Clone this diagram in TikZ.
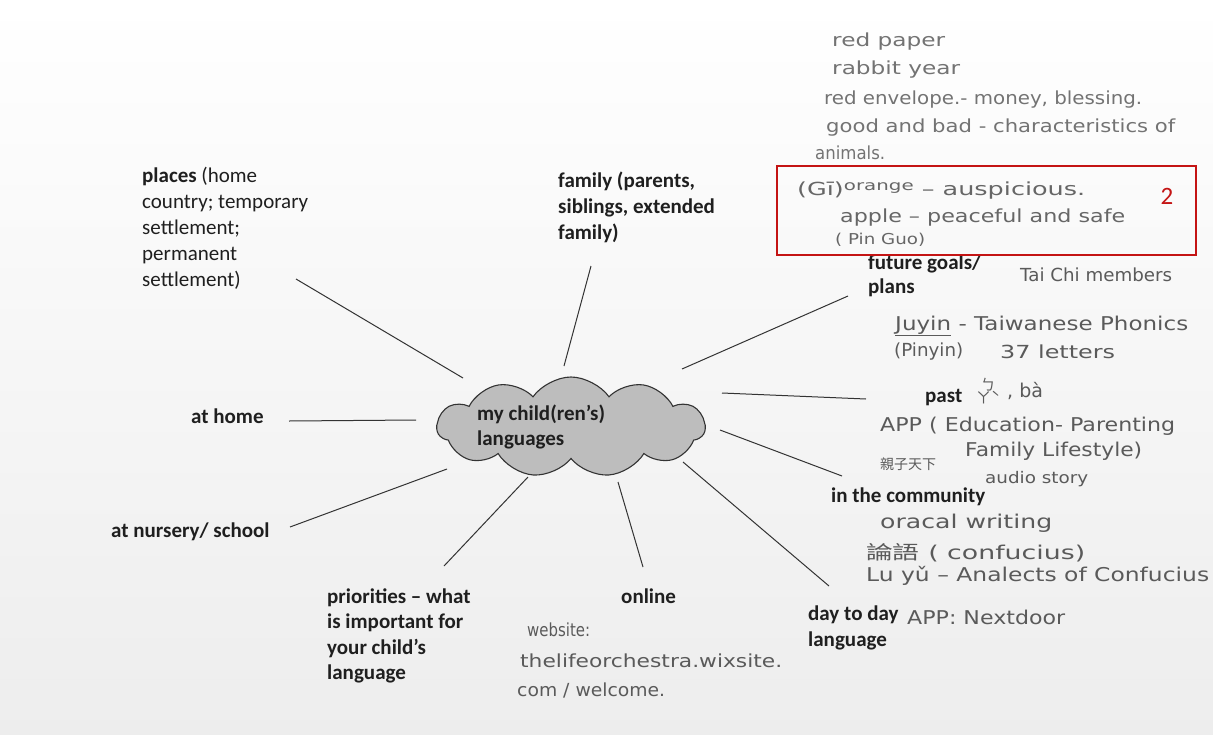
\documentclass[tikz,border=0pt]{standalone}
\usepackage{fontspec}
\usepackage{graphicx}
\setmainfont{Carlito}
\newfontfamily\hwfont{DejaVu Sans}
\newfontfamily\cjk{Noto Sans CJK TC}
\usetikzlibrary{shapes.symbols}
\definecolor{boxred}{RGB}{196,20,20}
\definecolor{pen}{RGB}{90,90,90}
\newcommand{\hwl}[2]{\resizebox{#1pt}{\height}{#2}}
\begin{document}
\begin{tikzpicture}[x=1pt,y=-1pt,
  lab/.style={anchor=west,inner sep=0pt,align=left,font=\fontsize{21}{26}\selectfont,text=black!88},
  blab/.style={lab,font=\bfseries\fontsize{21}{26}\selectfont},
  hw/.style={anchor=west,inner sep=0pt,align=left,text=pen,font=\hwfont\fontsize{18}{20}\selectfont},
  spoke/.style={draw=black!80,line width=1pt}]
\useasboundingbox (0,0) rectangle (1213,734);
\shade[top color=white,bottom color=black!7] (0,0) rectangle (1213,734);

% central cloud
\node[cloud,cloud puffs=11,cloud puff arc=110,aspect=2.6,minimum width=268pt,minimum height=100pt,
  fill=black!26,draw=black!80,line width=1.1pt,inner sep=0pt] (cloud) at (571,427) {};
\node[blab,font=\bfseries\fontsize{21}{25}\selectfont] (ctext) at (477,427) {my child(ren’s)\\languages};

% labels
\node[lab] (places) at (142,228) {\textbf{places} (home\\country; temporary\\settlement;\\permanent\\settlement)};
\node[blab] (family) at (558,207) {family (parents,\\siblings, extended\\family)};
\node[blab,font=\bfseries\fontsize{21}{24}\selectfont] (future) at (868,276) {future goals/\\plans};
\node[blab] (past) at (925,398) {past};
\node[blab] (home) at (191,416) {at home};
\node[blab] (community) at (831,497) {in the community};
\node[blab] (nursery) at (111,532) {at nursery/ school};
\node[blab,font=\bfseries\fontsize{21}{25.5}\selectfont] (priorities) at (327,636) {priorities – what\\is important for\\your child’s\\language};
\node[blab] (online) at (621,596) {online};
\node[blab] (daytoday) at (808,628) {day to day\\language};

% spoke end points
\coordinate (p1) at (296,279); \coordinate (p2) at (463,378);
\coordinate (f1) at (591,266); \coordinate (f2) at (564,366);
\coordinate (g1) at (848,296); \coordinate (g2) at (682,369);
\coordinate (pa1) at (866,399); \coordinate (pa2) at (722,393);
\coordinate (h1) at (289,421); \coordinate (h2) at (416,420);
\coordinate (c1) at (842,476); \coordinate (c2) at (720,430);
\coordinate (n1) at (290,527); \coordinate (n2) at (447,469);
\coordinate (pr1) at (444,566); \coordinate (pr2) at (528,477);
\coordinate (o1) at (643,567); \coordinate (o2) at (618,482);
\coordinate (d1) at (829,586); \coordinate (d2) at (683,462);
\foreach \a/\b in {p1/p2,f1/f2,g1/g2,pa1/pa2,h1/h2,c1/c2,n1/n2,pr1/pr2,o1/o2,d1/d2}
  \draw[spoke] (\a) -- (\b);

% handwritten notes, top right
\node[hw,text=black!55] (n01) at (832,42) {\hwl{113}{red paper}};
\node[hw,text=black!55] (n02) at (832,70) {\hwl{128}{rabbit year}};
\node[hw,text=black!55] (n03) at (824,100) {\hwl{318}{red envelope.- money, blessing.}};
\node[hw,text=black!55] (n04) at (826,128) {\hwl{349}{good and bad - characteristics of}};
\node[hw,text=black!55] (n05) at (815,153) {\hwl{70}{animals.}};

% red box
\draw[boxred,line width=2pt] (777,166) rectangle (1196,255);
\node[anchor=center,text=boxred,font=\fontsize{25}{26}\selectfont] (two) at (1167,196) {2};
\node[hw,text=black!60] (n06) at (797,191) {\hwl{288}{(Gī)\raisebox{5pt}{\fontsize{14}{15}\selectfont orange} – auspicious.}};
\node[hw,text=black!60] (n07) at (840,218) {\hwl{285}{apple – peaceful and safe}};
\node[hw,text=black!60,font=\hwfont\fontsize{15}{17}\selectfont] (n08) at (835,240) {\hwl{90}{( Pin Guo)}};

% right side notes
\node[hw] (n09) at (1020,275) {\hwl{152}{Tai Chi members}};
\node[hw,font=\hwfont\fontsize{19}{21}\selectfont] (n10) at (895,326) {\hwl{293}{\underline{Juyin} - Taiwanese Phonics}};
\node[hw] (n11) at (894,352) {\hwl{69}{(Pinyin)}};
\node[hw] (n12) at (1000,352) {\hwl{115}{37 letters}};
\node[hw,font=\cjk\fontsize{15}{15}\selectfont] (n13) at (976,391) {\shortstack{ㄅ\\[-3pt]ㄚˋ}};
\node[hw,font=\hwfont\fontsize{19}{21}\selectfont] (n14) at (1007,391) {, bà};
\node[hw,font=\hwfont\fontsize{19}{21}\selectfont] (n15) at (880,426) {\hwl{295}{APP ( Education- Parenting}};
\node[hw,font=\hwfont\fontsize{19}{21}\selectfont] (n16) at (965,451) {\hwl{177}{Family Lifestyle)}};
\node[hw,font=\cjk\fontsize{14}{16}\selectfont] (n17) at (880,464) {親子天下};
\node[hw,font=\hwfont\fontsize{16}{18}\selectfont] (n18) at (985,479) {\hwl{103}{audio story}};
\node[hw,font=\hwfont\fontsize{19}{21}\selectfont] (n19) at (880,523) {\hwl{172}{oracal writing}};
\node[hw,font=\hwfont\fontsize{19}{21}\selectfont] (n20) at (866,553) {\hwl{219}{\cjk 論語\hwfont{} ( confucius)}};
\node[hw,font=\hwfont\fontsize{19}{21}\selectfont] (n21) at (866,576) {\hwl{343}{Lu yǔ – Analects of Confucius}};
\node[hw,font=\hwfont\fontsize{19}{21}\selectfont] (n22) at (907,617) {\hwl{158}{APP: Nextdoor}};

% bottom notes
\node[hw] (n23) at (527,630) {\hwl{63}{website:}};
\node[hw] (n24) at (520,661) {\hwl{262}{thelifeorchestra.wixsite.}};
\node[hw] (n25) at (517,690) {\hwl{148}{com / welcome.}};
\end{tikzpicture}
\end{document}
